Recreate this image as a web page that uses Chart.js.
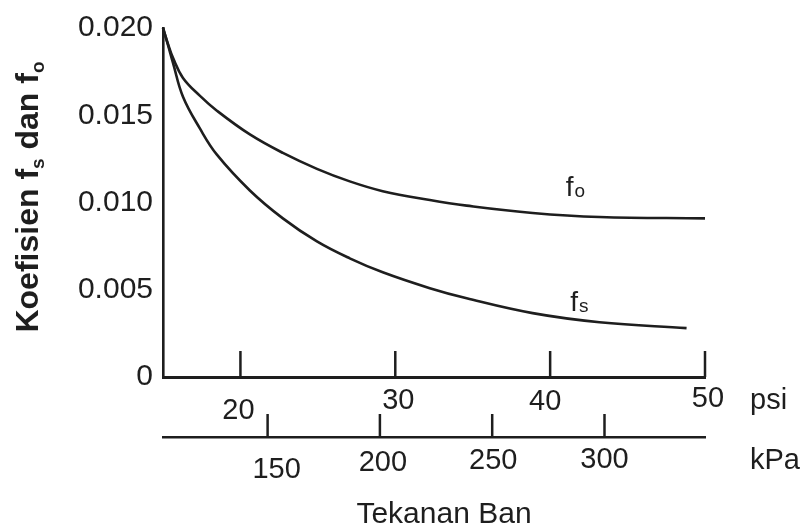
<!DOCTYPE html>
<html><head><meta charset="utf-8">
<script src="https://cdn.jsdelivr.net/npm/chart.js@4/dist/chart.umd.min.js"></script>
<style>html,body{margin:0;padding:0;background:#fff;}#wrap{width:803px;height:531px;position:relative;}</style>
</head><body><div id="wrap"><canvas id="c" width="803" height="531"></canvas></div>
<script>
// ---- data ----
const psiF0 = [15, 15.32, 15.645, 16.29, 17.39, 18.48, 20.61, 22.74, 24.94, 27.06, 29.19, 32.23, 34.61, 38.87, 43.19, 50];
const valF0 = [0.0200, 0.01909, 0.01829, 0.01714, 0.01611, 0.01526, 0.0139, 0.01284, 0.01193, 0.01121, 0.01065, 0.01014, 0.00982, 0.0094, 0.00917, 0.00909];
const psiFs = [15, 15.32, 15.645, 16.29, 17.39, 18.48, 20.61, 22.74, 24.94, 27.06, 29.19, 32.23, 34.61, 38.87, 43.19, 48.81];
const valFs = [0.0200, 0.01903, 0.0180, 0.01606, 0.01423, 0.01274, 0.01069, 0.00909, 0.00777, 0.0068, 0.0060, 0.00509, 0.00451, 0.00366, 0.00314, 0.0028];
const yTicks = [0, 0.005, 0.010, 0.015, 0.020];
const psiTicks = [20, 30, 40, 50];
const kpaTicks = [150, 200, 250, 300];
const psiRange = [15, 50];
const kpaPerPsi = 6.895;
const yTitle = ['Koefisien f', 's', ' dan f', 'o'];
const xTitle = 'Tekanan Ban';
const seriesNames = [['f', 'o'], ['f', 's']];
const seriesLabelAt = [[41.0, 0.0104], [41.3, 0.0038]];

const INK = '#1e1e1e';
const FONT = "'Liberation Sans', Arial, sans-serif";

const toPts = (xs, ys) => xs.map((x, i) => ({x: x, y: ys[i]}));

const deco = {
  id: 'deco',
  afterDraw(chart) {
    const ctx = chart.ctx;
    const sx = chart.scales.x, sk = chart.scales.kpa, sy = chart.scales.y;
    ctx.save();
    ctx.strokeStyle = INK; ctx.fillStyle = INK; ctx.lineWidth = 2.5;
    // upward tick marks
    const psiBase = sx.top;
    psiTicks.forEach(v => {
      const px = sx.getPixelForValue(v);
      ctx.beginPath(); ctx.moveTo(px, psiBase); ctx.lineTo(px, psiBase - 26); ctx.stroke();
    });
    const kBase = sk.top;
    kpaTicks.forEach(v => {
      const px = sk.getPixelForValue(v);
      ctx.beginPath(); ctx.moveTo(px, kBase); ctx.lineTo(px, kBase - 23); ctx.stroke();
    });
    // tick labels
    ctx.font = '29px ' + FONT;
    ctx.textAlign = 'center'; ctx.textBaseline = 'middle';
    const psiNudge = {20: [-2, 11], 30: [3, 1], 40: [-5, 2], 50: [3, -1]};
    psiTicks.forEach(v => {
      const n = psiNudge[v] || [0, 0];
      ctx.fillText(String(v), sx.getPixelForValue(v) + n[0], psiBase + 23 + n[1]);
    });
    const kNudge = {150: [9, 7], 200: [3, 0], 250: [1, -2], 300: [0, -3]};
    kpaTicks.forEach(v => {
      const n = kNudge[v] || [0, 0];
      ctx.fillText(String(v), sk.getPixelForValue(v) + n[0], kBase + 26 + n[1]);
    });
    ctx.textAlign = 'left';
    ctx.fillText('psi', sx.right + 45, psiBase + 24);
    ctx.fillText('kPa', sk.right + 45, kBase + 24);
    // x title
    ctx.textAlign = 'center';
    ctx.font = '30px ' + FONT;
    ctx.fillText(xTitle, 444, kBase + 78);
    // y title (rotated, with subscripts)
    ctx.save();
    ctx.translate(28, 197);
    ctx.rotate(-Math.PI / 2);
    const big = 'bold 32px ' + FONT, small = 'bold 19px ' + FONT;
    let w = 0;
    yTitle.forEach((t, i) => { ctx.font = i % 2 ? small : big; w += ctx.measureText(t).width; });
    let cx = -w / 2;
    ctx.textAlign = 'left'; ctx.textBaseline = 'alphabetic';
    yTitle.forEach((t, i) => {
      ctx.font = i % 2 ? small : big;
      ctx.fillText(t, cx, i % 2 ? 16 : 10);
      cx += ctx.measureText(t).width;
    });
    ctx.restore();
    // curve labels
    seriesNames.forEach((nm, i) => {
      const px = sx.getPixelForValue(seriesLabelAt[i][0]);
      const py = sy.getPixelForValue(seriesLabelAt[i][1]);
      ctx.textAlign = 'left'; ctx.textBaseline = 'alphabetic';
      ctx.font = '28px ' + FONT;
      ctx.fillText(nm[0], px, py);
      const fw = ctx.measureText(nm[0]).width;
      ctx.font = '19px ' + FONT;
      ctx.fillText(nm[1], px + fw + 1, py + 1);
    });
    ctx.restore();
  }
};

new Chart(document.getElementById('c'), {
  type: 'line',
  data: {
    datasets: [
      {label: 'f0', data: toPts(psiF0, valF0), borderColor: INK, borderWidth: 2.6, pointRadius: 0, fill: false, tension: 0.4, clip: false, xAxisID: 'x', yAxisID: 'y'},
      {label: 'fs', data: toPts(psiFs, valFs), borderColor: INK, borderWidth: 2.6, pointRadius: 0, fill: false, tension: 0.4, clip: false, xAxisID: 'x', yAxisID: 'y'}
    ]
  },
  options: {
    responsive: false,
    animation: false,
    events: [],
    layout: {padding: {top: 27, right: 98, left: 0, bottom: 0}},
    plugins: {legend: {display: false}, tooltip: {enabled: false}, title: {display: false}},
    scales: {
      x: {
        type: 'linear', position: 'bottom', min: psiRange[0], max: psiRange[1],
        grid: {display: false, drawTicks: false},
        border: {display: true, color: INK, width: 3},
        ticks: {display: false},
        afterBuildTicks: s => { s.ticks = psiTicks.map(v => ({value: v})); },
        afterFit: s => { s.height = 60; }
      },
      kpa: {
        type: 'linear', position: 'bottom', min: psiRange[0] * kpaPerPsi, max: psiRange[1] * kpaPerPsi,
        grid: {display: false, drawTicks: false},
        border: {display: true, color: INK, width: 2.6},
        ticks: {display: false},
        afterBuildTicks: s => { s.ticks = kpaTicks.map(v => ({value: v})); },
        afterFit: s => { s.height = 94; }
      },
      y: {
        type: 'linear', position: 'left', min: 0, max: 0.02,
        grid: {display: false, drawTicks: false},
        border: {display: true, color: INK, width: 2.6},
        afterBuildTicks: s => { s.ticks = yTicks.map(v => ({value: v})); },
        ticks: {
          color: INK, padding: 10,
          font: {family: FONT, size: 30},
          callback: v => v === 0 ? '0' : v.toFixed(3)
        },
        afterFit: s => { s.width = 163; }
      }
    }
  },
  plugins: [deco]
});
</script>
</body></html>
